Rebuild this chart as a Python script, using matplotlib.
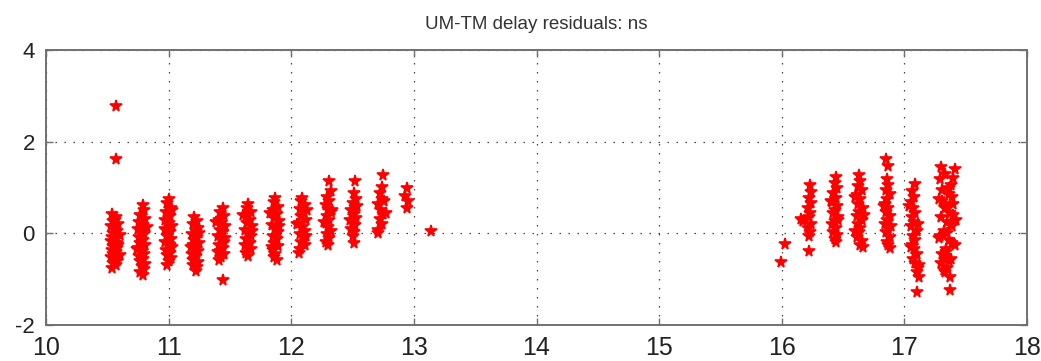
import matplotlib
matplotlib.use("Agg")
import matplotlib.pyplot as plt

plt.rcParams["axes.unicode_minus"] = False

# residuals per pass: time of day (h) and UM-TM delay residual (ns)
pass_x = [
    [10.54, 10.57, 10.55, 10.59, 10.53, 10.56, 10.58, 10.55, 10.60, 10.54, 10.57, 10.53, 10.56, 10.59,
     10.55, 10.58, 10.54, 10.57, 10.55, 10.60, 10.53, 10.56, 10.58, 10.55, 10.57, 10.54, 10.56, 10.58,
     10.57, 10.57],
    [10.79, 10.80, 10.77, 10.81, 10.76, 10.79, 10.75, 10.78, 10.80, 10.76, 10.79, 10.77, 10.81, 10.75,
     10.78, 10.80, 10.76, 10.79, 10.77, 10.81, 10.78, 10.80, 10.77, 10.79, 10.82, 10.74],
    [11.00, 10.99, 11.02, 10.98, 11.01, 10.97, 11.00, 11.03, 10.98, 11.01, 10.99, 11.02, 10.97, 11.00,
     11.03, 10.98, 11.01, 10.99, 11.02, 11.00, 10.99, 11.03, 10.97, 11.01],
    [11.21, 11.23, 11.20, 11.24, 11.22, 11.19, 11.23, 11.21, 11.25, 11.20, 11.22, 11.24, 11.19, 11.22,
     11.21, 11.24, 11.20, 11.23, 11.22, 11.25, 11.18, 11.20],
    [11.44, 11.42, 11.45, 11.41, 11.43, 11.46, 11.42, 11.44, 11.40, 11.43, 11.45, 11.41, 11.44, 11.42,
     11.45, 11.43, 11.41, 11.39, 11.46, 11.40, 11.44],
    [11.65, 11.64, 11.67, 11.63, 11.66, 11.64, 11.68, 11.62, 11.65, 11.67, 11.63, 11.66, 11.64, 11.67,
     11.63, 11.65, 11.61, 11.68, 11.62],
    [11.87, 11.86, 11.89, 11.85, 11.88, 11.86, 11.90, 11.84, 11.87, 11.89, 11.85, 11.88, 11.86, 11.89,
     11.85, 11.87, 11.86, 11.88, 11.83, 11.90, 11.84],
    [12.09, 12.08, 12.11, 12.07, 12.10, 12.08, 12.12, 12.06, 12.09, 12.11, 12.07, 12.10, 12.08, 12.11,
     12.07, 12.06, 12.13, 12.05, 12.12],
    [12.31, 12.32, 12.29, 12.31, 12.28, 12.30, 12.32, 12.29, 12.31, 12.28, 12.30, 12.32, 12.29, 12.31,
     12.28, 12.30, 12.33, 12.27],
    [12.52, 12.51, 12.53, 12.50, 12.52, 12.49, 12.51, 12.53, 12.50, 12.52, 12.49, 12.51, 12.50, 12.51,
     12.54, 12.48],
    [12.75, 12.74, 12.72, 12.74, 12.71, 12.73, 12.75, 12.72, 12.74, 12.71, 12.71, 12.76, 12.77],
    [12.94, 12.93, 12.95, 12.94],
    [13.14],
    [15.99, 16.03],
    [16.23, 16.24, 16.22, 16.24, 16.21, 16.23, 16.22, 16.17, 16.24, 16.21, 16.23, 16.22, 16.22, 16.16],
    [16.44, 16.43, 16.45, 16.42, 16.44, 16.41, 16.45, 16.43, 16.42, 16.46, 16.43, 16.41, 16.44, 16.42,
     16.45, 16.43, 16.44, 16.40, 16.46],
    [16.63, 16.64, 16.62, 16.65, 16.61, 16.64, 16.62, 16.66, 16.63, 16.61, 16.65, 16.62, 16.64, 16.63,
     16.61, 16.65, 16.64, 16.66, 16.60, 16.67, 16.60],
    [16.85, 16.87, 16.86, 16.87, 16.85, 16.88, 16.86, 16.84, 16.87, 16.85, 16.88, 16.86, 16.84, 16.87,
     16.85, 16.88, 16.86, 16.87, 16.88, 16.83, 16.89],
    [17.09, 17.06, 17.08, 17.05, 17.07, 17.09, 17.06, 17.08, 17.05, 17.10, 17.07, 17.09, 17.06, 17.08,
     17.10, 17.07, 17.09, 17.11, 17.10, 17.12, 17.10, 17.04, 17.11, 17.05, 17.12],
    [17.30, 17.41, 17.33, 17.29, 17.38, 17.31, 17.36, 17.28, 17.40, 17.33, 17.37, 17.30, 17.35, 17.39,
     17.32, 17.29, 17.36, 17.41, 17.34, 17.31, 17.38, 17.30, 17.35, 17.33, 17.37, 17.37,
     17.40, 17.36, 17.39, 17.34, 17.40, 17.38, 17.35, 17.39, 17.34, 17.36, 17.32, 17.31, 17.42, 17.28,
     17.33],
]

pass_y = [
    [0.42, 0.35, 0.28, 0.20, 0.15, 0.10, 0.05, 0.00, -0.04, -0.08, -0.12, -0.16, -0.20, -0.25,
     -0.28, -0.32, -0.36, -0.40, -0.44, -0.48, -0.52, -0.56, -0.60, -0.65, -0.70, -0.76, 0.30, -0.22,
     2.78, 1.62],
    [0.62, 0.50, 0.40, 0.32, 0.25, 0.18, 0.10, 0.04, -0.02, -0.08, -0.15, -0.20, -0.26, -0.32,
     -0.38, -0.44, -0.50, -0.55, -0.60, -0.66, -0.72, -0.78, -0.85, -0.90, 0.14, -0.35],
    [0.76, 0.66, 0.55, 0.46, 0.38, 0.30, 0.22, 0.15, 0.08, 0.02, -0.05, -0.12, -0.18, -0.24,
     -0.30, -0.36, -0.42, -0.48, -0.54, -0.60, -0.68, 0.50, 0.10, -0.26],
    [0.36, 0.28, 0.20, 0.12, 0.05, -0.02, -0.08, -0.14, -0.20, -0.26, -0.32, -0.38, -0.44, -0.50,
     -0.56, -0.62, -0.68, -0.74, -0.82, 0.00, -0.30, -0.58],
    [0.55, 0.46, 0.38, 0.30, 0.22, 0.15, 0.08, 0.02, -0.05, -0.12, -0.18, -0.25, -0.32, -0.38,
     -0.45, -0.52, -0.58, 0.25, -0.10, -0.40, -1.02],
    [0.64, 0.55, 0.46, 0.38, 0.30, 0.22, 0.15, 0.08, 0.01, -0.06, -0.13, -0.20, -0.27, -0.34,
     -0.42, -0.50, 0.40, 0.05, -0.25],
    [0.78, 0.68, 0.58, 0.50, 0.42, 0.34, 0.26, 0.18, 0.10, 0.03, -0.05, -0.12, -0.20, -0.28,
     -0.36, -0.44, -0.52, -0.58, 0.45, 0.15, -0.30],
    [0.78, 0.70, 0.62, 0.54, 0.46, 0.38, 0.30, 0.22, 0.14, 0.06, -0.02, -0.10, -0.18, -0.26,
     -0.34, -0.42, 0.50, 0.20, -0.05],
    [1.15, 0.92, 0.80, 0.70, 0.62, 0.54, 0.46, 0.38, 0.30, 0.22, 0.14, 0.06, -0.02, -0.10,
     -0.18, -0.25, 0.50, 0.25],
    [1.15, 0.88, 0.76, 0.66, 0.58, 0.50, 0.42, 0.34, 0.26, 0.18, 0.10, 0.02, -0.06, -0.22,
     0.60, 0.30],
    [1.27, 1.02, 0.88, 0.76, 0.64, 0.52, 0.42, 0.32, 0.20, 0.08, 0.00, 0.70, 0.45],
    [1.00, 0.82, 0.70, 0.55],
    [0.05],
    [-0.62, -0.23],
    [1.05, 0.90, 0.78, 0.66, 0.55, 0.45, 0.36, 0.28, 0.20, 0.12, 0.04, -0.06, -0.38, 0.32],
    [1.23, 1.10, 0.98, 0.88, 0.78, 0.68, 0.60, 0.52, 0.44, 0.36, 0.28, 0.20, 0.12, 0.04,
     -0.04, -0.12, -0.18, 0.70, 0.30],
    [1.27, 1.15, 1.04, 0.94, 0.84, 0.74, 0.65, 0.56, 0.47, 0.38, 0.29, 0.20, 0.11, 0.02,
     -0.07, -0.16, -0.25, -0.30, 0.80, 0.40, 0.05],
    [1.62, 1.48, 1.18, 1.06, 0.95, 0.85, 0.75, 0.65, 0.56, 0.47, 0.38, 0.29, 0.20, 0.11,
     0.02, -0.08, -0.18, -0.26, -0.32, 0.60, 0.15],
    [1.08, 0.92, 0.80, 0.68, 0.56, 0.45, 0.35, 0.25, 0.15, 0.05, -0.05, -0.15, -0.25, -0.35,
     -0.45, -0.55, -0.65, -0.75, -0.85, -0.95, -1.28, 0.60, 0.20, -0.30, -0.70],
    [1.45, 1.40, 1.30, 1.18, 1.05, 0.95, 0.85, 0.75, 0.65, 0.55, 0.45, 0.35, 0.25, 0.15,
     0.05, -0.05, -0.15, -0.25, -0.35, -0.45, -0.55, -0.65, -0.75, -0.85, -0.95, -1.24,
     1.20, 0.98, 0.80, 0.60, 0.40, 0.20, 0.00, -0.20, -0.40, -0.60, -0.80, 0.70, 0.30, -0.10,
     -0.50],
]

x_ticks = [10, 11, 12, 13, 14, 15, 16, 17, 18]
y_ticks = [-2, 0, 2, 4]

fig = plt.figure(figsize=(10.41, 3.61), dpi=100)
ax = fig.add_axes([0.0442, 0.0997, 0.9424, 0.7618])

for xs, ys in zip(pass_x, pass_y):
    ax.plot(xs, ys, linestyle="none", marker="*", markersize=8.5,
            color="red", markeredgecolor="red", markeredgewidth=1.2)

ax.set_xlim(10, 18)
ax.set_ylim(-2, 4)
ax.set_xticks(x_ticks)
ax.set_yticks(y_ticks)
ax.grid(True, color="#444444", linestyle=(0, (1.2, 6)), linewidth=0.9)
ax.set_axisbelow(True)

for s in ax.spines.values():
    s.set_color("#707070")
    s.set_linewidth(1.4)

ax.tick_params(direction="in", length=5, width=1, color="#707070",
               top=True, right=True, pad=8)
for lbl in ax.get_xticklabels():
    lbl.set_family("Liberation Sans")
    lbl.set_fontsize(18)
    lbl.set_color("#222222")
for lbl in ax.get_yticklabels():
    lbl.set_family("Liberation Sans")
    lbl.set_fontsize(16)
    lbl.set_color("#222222")

ax.set_title("UM-TM delay residuals: ns", fontsize=13.5, family="Liberation Sans",
             color="#333333", pad=15)

fig.savefig("out.png", dpi=100)
